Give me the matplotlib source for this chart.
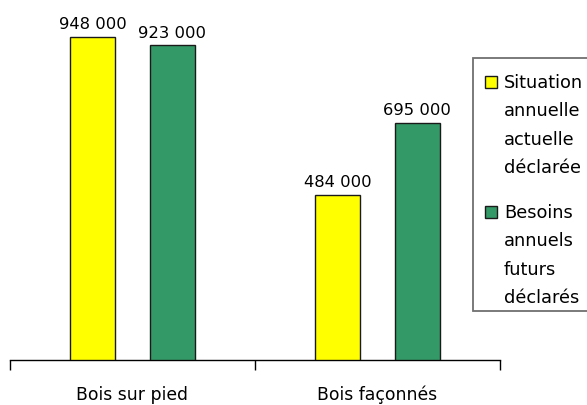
import matplotlib
matplotlib.use("Agg")
import matplotlib.pyplot as plt
from matplotlib.patches import Rectangle
import numpy as np

categories = ["Bois sur pied", "Bois façonnés"]
series_names = ["Situation\nannuelle\nactuelle\ndéclarée", "Besoins\nannuels\nfuturs\ndéclarés"]
situation = [948000, 484000]
besoins = [923000, 695000]
colors = ["#FFFF00", "#339966"]

W, H = 587, 406
fig = plt.figure(figsize=(W / 100, H / 100), dpi=100)
ax = fig.add_axes([10 / W, 45 / H, 490 / W, 341 / H])

x = np.arange(len(categories))
width = 0.184
offset = 0.163
for vals, off, col in [(situation, -offset, colors[0]), (besoins, offset, colors[1])]:
    bars = ax.bar(x + off, vals, width, color=col, edgecolor="#1a1a1a", linewidth=1.0, zorder=3)
    for b, v in zip(bars, vals):
        ax.annotate(f"{v:,}".replace(",", " "), (b.get_x() + b.get_width() / 2, v),
                    xytext=(0, 4), textcoords="offset points", ha="center", va="bottom",
                    fontsize=11.8, family="DejaVu Sans")

ax.set_xlim(-0.5, len(categories) - 0.5)
ax.set_ylim(0, 1000000)
for s in ["top", "right", "left"]:
    ax.spines[s].set_visible(False)
ax.spines["bottom"].set_linewidth(1.0)
ax.set_yticks([])
ax.set_xticks(np.arange(len(categories) + 1) - 0.5)
ax.set_xticklabels([])
ax.tick_params(axis="x", which="major", length=7, width=1.0, direction="out")
ax.set_xticks(x, minor=True)
ax.set_xticklabels(categories, minor=True, fontsize=12.4)
ax.tick_params(axis="x", which="minor", length=0, pad=18)

# legend panel on the right
frame = Rectangle((473 / W, (H - 312) / H), 140 / W, (312 - 59) / H, transform=fig.transFigure,
                  facecolor="white", edgecolor="#707070", linewidth=1.3, clip_on=False)
fig.patches.append(frame)
tops = [83, 213]
for name, col, ty in zip(series_names, colors, tops):
    sq = Rectangle((485 / W, (H - ty - 6) / H), 12 / W, 12 / H, transform=fig.transFigure,
                   facecolor=col, edgecolor="#1a1a1a", linewidth=1.0)
    fig.patches.append(sq)
    fig.text(504 / W, (H - ty + 9) / H, name, ha="left", va="top", fontsize=12.8,
             linespacing=1.74)

fig.savefig("out.png", dpi=100)
